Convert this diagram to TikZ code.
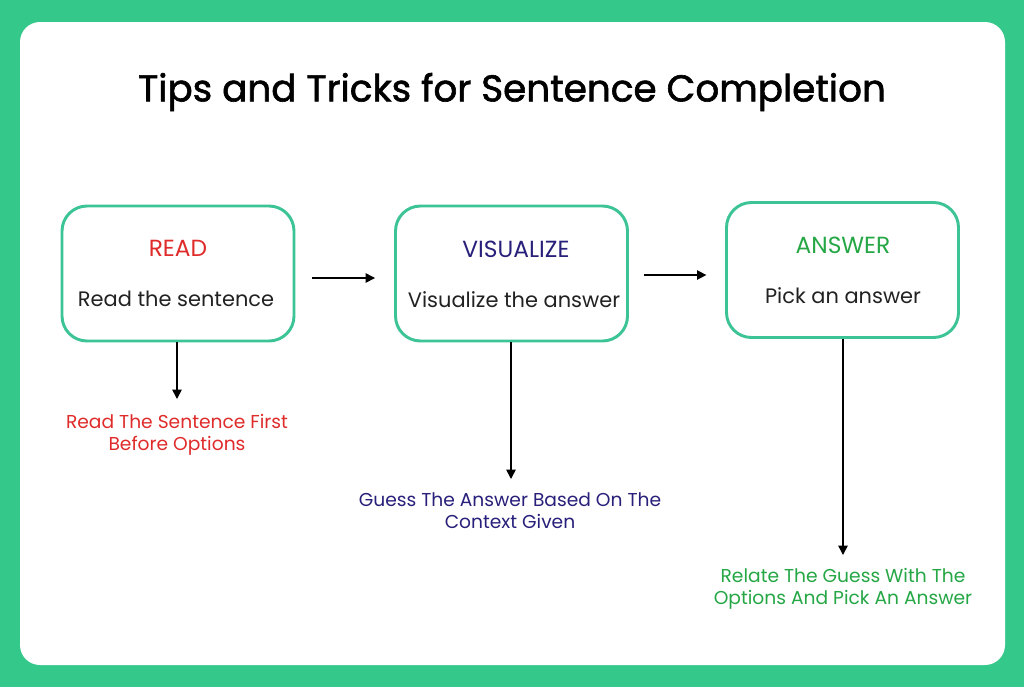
\documentclass[tikz,border=0pt]{standalone}
\usepackage{fontspec}
\setmainfont{Poppins}
\newfontfamily\titlefont{Poppins}[FakeBold=1.6]
\usetikzlibrary{arrows.meta}
\definecolor{bggreen}{HTML}{35C88B}
\definecolor{boxgreen}{HTML}{3DC496}
\definecolor{redtxt}{HTML}{E02B2B}
\definecolor{navytxt}{HTML}{28207A}
\definecolor{greentxt}{HTML}{25A745}
\definecolor{darktxt}{HTML}{222222}
\tikzset{
  x=0.75pt, y=-0.75pt,
  stepbox/.style={draw=boxgreen, line width=2.2pt, rounded corners=18.75pt, fill=white,
    minimum width=174pt, minimum height=101.25pt, inner sep=0pt},
  head/.style={font=\fontsize{17.5}{20}\selectfont},
  body/.style={font=\fontsize{15.7}{18}\selectfont, text=darktxt},
  note/.style={font=\fontsize{14}{16.5}\selectfont, align=center},
  arr/.style={line width=1.1pt, -{Triangle[length=7pt,width=7pt]}},
}
\begin{document}
\begin{tikzpicture}
\useasboundingbox (0,0) rectangle (1024,687);
\fill[bggreen] (0,0) rectangle (1024,687);
\fill[white, rounded corners=15pt] (20,22) rectangle (1005,665);
\node (title) at (512,92) {\titlefont\fontsize{28}{32}\selectfont Tips and Tricks for Sentence Completion};

\node[stepbox] (b1) at (178,273.5) {};
\node[stepbox] (b2) at (511.5,273.5) {};
\node[stepbox] (b3) at (842.5,270) {};

\node[head, text=redtxt] (h1) at (178,248) {READ};
\node[body] (t1) at (176,299) {Read the sentence};
\node[head, text=navytxt] (h2) at (516,249) {VISUALIZE};
\node[body] (t2) at (514,300) {Visualize the answer};
\node[head, text=greentxt] (h3) at (843,245) {ANSWER};
\node[body] (t3) at (843,296) {Pick an answer};

\node[note, text=redtxt] (l1) at (177,435) {Read The Sentence First\\Before Options};
\node[note, text=navytxt] (l2) at (510,511) {Guess The Answer Based On The\\Context Given};
\node[note, text=greentxt] (l3) at (843,589) {Relate The Guess With The\\Options And Pick An Answer};

\coordinate (r1) at (0,278);
\coordinate (r2) at (0,275);
\draw[arr, shorten <=12.75pt, shorten >=14.25pt] (b1.east |- r1) -- (b2.west |- r1);
\draw[arr, shorten <=11pt, shorten >=14pt] (b2.east |- r2) -- (b3.west |- r2);

\draw[arr] (b1.south -| 177,0) -- (177,399);
\draw[arr] (b2.south -| 511,0) -- (511,479);
\draw[arr] (b3.south -| 843,0) -- (843,555);
\end{tikzpicture}
\end{document}
